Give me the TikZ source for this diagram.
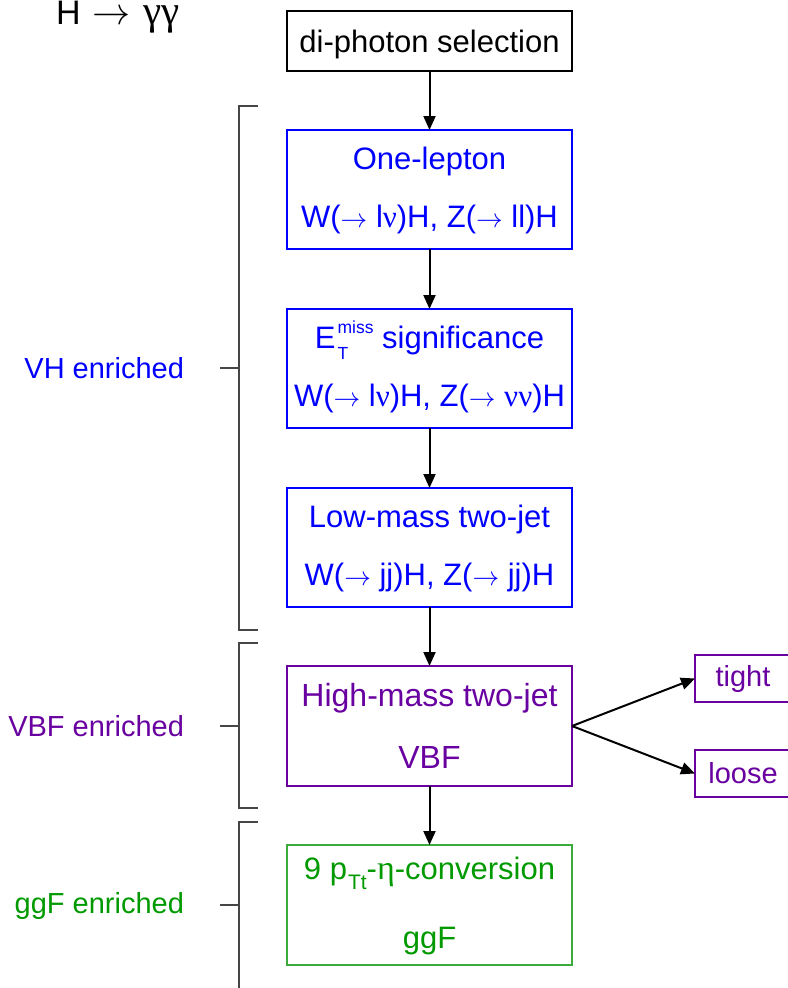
\documentclass[tikz,border=0pt]{standalone}
\usepackage{graphicx}
\usepackage{fontspec}
\setmainfont{Liberation Sans}
\newfontfamily\grfont{Liberation Serif}
\usetikzlibrary{arrows.meta}

\definecolor{vhblue}{RGB}{0,0,255}
\definecolor{vbfpurple}{RGB}{105,0,160}
\definecolor{ggfgreen}{RGB}{0,153,0}
\definecolor{ggfbox}{RGB}{60,170,60}
\definecolor{bracketgray}{RGB}{70,70,70}

% thin arrow scaled to the surrounding text size
\newcommand{\toarrow}[1][0.86em]{\resizebox{#1}{!}{$\rightarrow$}}
% superscript stacked over a subscript
\newcommand{\supsub}[2]{{\fontsize{17.5bp}{18bp}\selectfont\hspace{2bp}%
  \rlap{\raisebox{-11bp}{#2}}\raisebox{15bp}{#1}}}
\newcommand{\lowsub}[1]{{\fontsize{21bp}{22bp}\selectfont\hspace{1bp}\raisebox{-10bp}{#1}}}

\begin{document}
\begin{tikzpicture}[x=1bp,y=-1bp,
  every node/.style={inner sep=0pt,outer sep=0pt},
  box/.style={draw,line width=2bp,minimum width=285bp,minimum height=119bp},
  boxtext/.style={anchor=base,font=\fontsize{31bp}{37bp}\selectfont},
  bigtext/.style={anchor=base,font=\fontsize{32bp}{38bp}\selectfont},
  sidelabel/.style={anchor=base east,font=\fontsize{29bp}{35bp}\selectfont},
  smallbox/.style={draw=vbfpurple,line width=2bp,minimum width=96bp,minimum height=47bp,
    text=vbfpurple,font=\fontsize{29bp}{35bp}\selectfont},
  flow/.style={draw=black,line width=2bp,-{Triangle[length=14bp,width=12bp]}},
  bracket/.style={draw=bracketgray,line width=1.5bp},
]
\clip (0,0) rectangle (788,988);

% title
\node[anchor=base west,font=\fontsize{34bp}{40bp}\selectfont] (title) at (56,24)
  {H\hspace{0.36em}\toarrow[1.12em]\hspace{0.36em}{\grfont\fontsize{41bp}{42bp}\selectfont γγ}};

% selection chain
\node[box,minimum height=60bp] (sel) at (429.5,41) {};
\node[boxtext] (sel-t) at (429.5,52) {di-photon selection};

\node[box,draw=vhblue] (lep) at (429.5,189.5) {};
\node[boxtext,text=vhblue] (lep-a) at (429.5,169) {One-lepton};
\node[boxtext,text=vhblue] (lep-b) at (429.5,227)
  {W(\toarrow\ l{\grfont ν})H, Z(\toarrow\ ll)H};

\node[box,draw=vhblue] (met) at (429.5,368.5) {};
\node[boxtext,text=vhblue] (met-a) at (429.5,348)
  {E\supsub{miss}{T} significance};
\node[boxtext,text=vhblue] (met-b) at (429.5,406)
  {W(\toarrow\ l{\grfont ν})H, Z(\toarrow\ {\grfont νν})H};

\node[box,draw=vhblue] (lowjj) at (429.5,547.5) {};
\node[boxtext,text=vhblue] (lowjj-a) at (429.5,527) {Low-mass two-jet};
\node[boxtext,text=vhblue] (lowjj-b) at (429.5,585) {W(\toarrow\ jj)H, Z(\toarrow\ jj)H};

\node[box,draw=vbfpurple,minimum height=120bp] (highjj) at (429.5,726) {};
\node[bigtext,text=vbfpurple] (highjj-a) at (429.5,706) {High-mass two-jet};
\node[bigtext,text=vbfpurple] (highjj-b) at (429.5,768) {VBF};

\node[box,draw=ggfbox,minimum height=120bp] (ggf) at (429.5,905) {};
\node[boxtext,text=ggfgreen] (ggf-a) at (429.5,879)
  {9 p\lowsub{Tt}-{\grfont\fontsize{34bp}{37bp}\selectfont η}-conversion};
\node[boxtext,text=ggfgreen] (ggf-b) at (429.5,948) {ggF};

% VBF sub-categories
\node[smallbox] (tight) at (743,678.5) {tight};
\node[smallbox] (loose) at (743,773.5) {loose};

% connectors
\draw[flow] (sel) -- (lep);
\draw[flow] (lep) -- (met);
\draw[flow] (met) -- (lowjj);
\draw[flow] (lowjj) -- (highjj);
\draw[flow] (highjj) -- (ggf);
\draw[flow] (highjj.east) -- (tight.west);
\draw[flow] (highjj.east) -- (loose.west);

% brackets grouping the categories
\draw[bracket] (258,106) -- (239,106) -- (239,630) -- (258,630);
\coordinate (vh-tick) at (220,368);
\draw[bracket] (vh-tick) -- (239,368);
\node[sidelabel,text=vhblue] (vh) at (184,378.5) {VH enriched};

\draw[bracket] (258,643) -- (239,643) -- (239,808) -- (258,808);
\coordinate (vbf-tick) at (220,726);
\draw[bracket] (vbf-tick) -- (239,726);
\node[sidelabel,text=vbfpurple] (vbf) at (184,736.5) {VBF enriched};

\draw[bracket] (258,822) -- (239,822) -- (239,995);
\coordinate (ggf-tick) at (220,905);
\draw[bracket] (ggf-tick) -- (239,905);
\node[sidelabel,text=ggfgreen] (ggfl) at (184,913.5) {ggF enriched};
\end{tikzpicture}
\end{document}
